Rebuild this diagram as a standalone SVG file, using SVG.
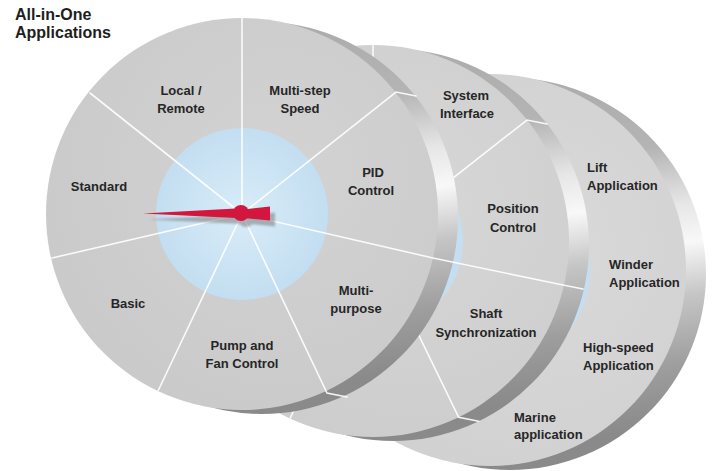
<svg xmlns="http://www.w3.org/2000/svg" width="721" height="471" viewBox="0 0 721 471">
<defs>
<linearGradient id="rim" x1="0" y1="0" x2="0.15" y2="1">
<stop offset="0" stop-color="#a8a8a8"/>
<stop offset="0.3" stop-color="#b4b4b4"/>
<stop offset="0.45" stop-color="#e6e6e6"/>
<stop offset="0.55" stop-color="#f8f8f8"/>
<stop offset="0.68" stop-color="#c6c6c6"/>
<stop offset="0.85" stop-color="#9e9e9e"/>
<stop offset="1" stop-color="#8a8a8a"/>
</linearGradient>
<radialGradient id="face1" cx="0.6" cy="0.4" r="0.7">
<stop offset="0" stop-color="#d3d3d3"/>
<stop offset="1" stop-color="#c9c9c9"/>
</radialGradient>
<radialGradient id="face2" cx="0.6" cy="0.4" r="0.7">
<stop offset="0" stop-color="#d7d7d7"/>
<stop offset="1" stop-color="#cccccc"/>
</radialGradient>
<radialGradient id="face3" cx="0.6" cy="0.45" r="0.7">
<stop offset="0" stop-color="#dadada"/>
<stop offset="1" stop-color="#cfcfcf"/>
</radialGradient>
<radialGradient id="hub" cx="0.5" cy="0.5" r="0.5">
<stop offset="0" stop-color="#d9ecf8"/>
<stop offset="1" stop-color="#c3def1"/>
</radialGradient>
<filter id="blur" x="-20%" y="-50%" width="140%" height="200%"><feGaussianBlur stdDeviation="1.2"/></filter>
</defs>
<style>
.rim{fill:url(#rim)}
.spoke{stroke:#ffffff;stroke-width:1.6;stroke-opacity:0.9;fill:none;stroke-linecap:round}
.lbl{font-family:"Liberation Sans",Arial,sans-serif;font-weight:bold;font-size:13px;fill:#262626}
.c{text-anchor:middle}
.title{font-family:"Liberation Sans",Arial,sans-serif;font-weight:bold;font-size:16px;fill:#1e1e1e}
</style>
<rect width="721" height="471" fill="#ffffff"/>

<g id="disc3">
<circle class="rim" cx="510" cy="274" r="196"/>
<circle cx="490" cy="270" r="196" fill="url(#face3)"/>
<circle cx="490" cy="270" r="100" fill="url(#hub)"/>
<text class="lbl" x="587" y="172">Lift</text>
<text class="lbl" x="587" y="190">Application</text>
<text class="lbl" x="609" y="269">Winder</text>
<text class="lbl" x="609" y="287">Application</text>
<text class="lbl" x="583" y="352">High-speed</text>
<text class="lbl" x="583" y="370">Application</text>
<text class="lbl" x="514" y="422">Marine</text>
<text class="lbl" x="514" y="439">application</text>
</g>

<g id="disc2">
<circle class="rim" cx="393" cy="245" r="196"/>
<circle cx="373" cy="241" r="196" fill="url(#face2)"/>
<circle cx="373" cy="241" r="90" fill="url(#hub)"/>
<path class="spoke" d="M373,241 V45 M373,241 L527,120 L547,124 M373,241 L458.7,417.3 L478.7,421.3 M373,241 L290,418.5"/>
<text class="lbl c" x="466" y="100">System</text>
<text class="lbl c" x="467" y="118">Interface</text>
<text class="lbl c" x="513" y="213">Position</text>
<text class="lbl c" x="513" y="232">Control</text>
<text class="lbl c" x="486" y="318">Shaft</text>
<text class="lbl c" x="486" y="337">Synchronization</text>
</g>

<g id="disc1">
<circle class="rim" cx="262" cy="218" r="196"/>
<circle cx="242" cy="214" r="196" fill="url(#face1)"/>
<circle cx="242" cy="214" r="86" fill="url(#hub)"/>
<path class="spoke" d="M242,214 V18 M242,214 L90,93 M242,214 L52,258 M242,214 L158,391 M242,214 L327,393 L347,397 M242,214 L396,92 L416,96 M242,214 L433,258 L563,285 L583,289"/>
<text class="lbl c" x="181" y="95">Local /</text>
<text class="lbl c" x="181" y="113">Remote</text>
<text class="lbl c" x="300" y="95">Multi-step</text>
<text class="lbl c" x="300" y="113">Speed</text>
<text class="lbl c" x="99" y="191">Standard</text>
<text class="lbl c" x="373" y="177">PID</text>
<text class="lbl c" x="371" y="195">Control</text>
<text class="lbl c" x="356" y="295">Multi-</text>
<text class="lbl c" x="356" y="313">purpose</text>
<text class="lbl c" x="128" y="308">Basic</text>
<text class="lbl c" x="242" y="350">Pump and</text>
<text class="lbl c" x="242" y="368">Fan Control</text>
</g>

<g id="needle">
<g fill="#7d7d7d" opacity="0.55" filter="url(#blur)" transform="translate(5,6)">
<path d="M143,213.5 L236,208.5 L236,218 Z"/>
<path d="M244,209.5 L270,206.5 L270,220.5 L244,218 Z"/>
<circle cx="241" cy="213" r="8"/>
</g>
<g fill="#d3163d">
<path d="M143,213.5 L236,208.5 L236,218 Z"/>
<path d="M244,209.5 L270,206.5 L270,220.5 L244,218 Z"/>
<circle cx="241" cy="213" r="8"/>
</g>
</g>

<g id="title">
<text class="title" x="15" y="20">All-in-One</text>
<text class="title" x="15" y="38">Applications</text>
</g>
</svg>
